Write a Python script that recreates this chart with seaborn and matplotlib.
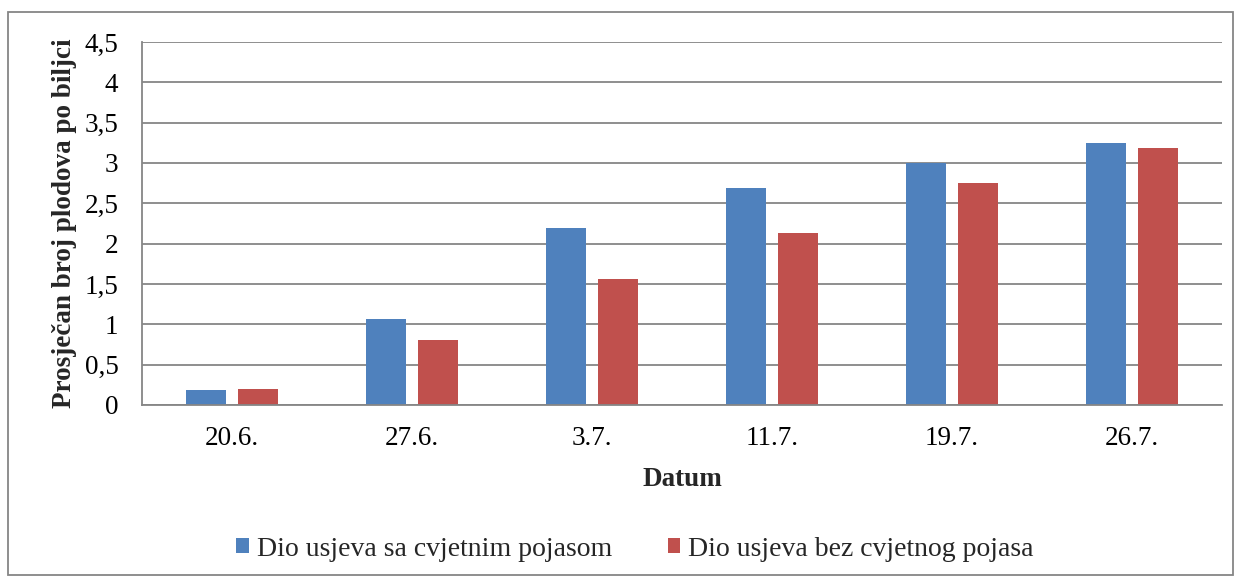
import matplotlib
matplotlib.use("Agg")
import matplotlib.pyplot as plt
import seaborn as sns
import pandas as pd
from matplotlib.patches import Rectangle, Patch

dates = ["20.6.", "27.6.", "3.7.", "11.7.", "19.7.", "26.7."]
sa_pojasom = [0.19, 1.06, 2.19, 2.69, 3.00, 3.25]
bez_pojasa = [0.20, 0.81, 1.56, 2.13, 2.75, 3.19]
series_names = ["Dio usjeva sa cvjetnim pojasom", "Dio usjeva bez cvjetnog pojasa"]
y_ticks = [0, 0.5, 1, 1.5, 2, 2.5, 3, 3.5, 4, 4.5]
y_tick_labels = ["0", "0,5", "1", "1,5", "2", "2,5", "3", "3,5", "4", "4,5"]

df = pd.DataFrame({
    "Datum": dates * 2,
    "Vrijednost": sa_pojasom + bez_pojasa,
    "Serija": [series_names[0]] * len(dates) + [series_names[1]] * len(dates),
})

sns.set_theme(style="white")
plt.rcParams["font.family"] = ["Liberation Serif", "DejaVu Serif"]

colors = ["#4F81BD", "#C0504D"]
fs = 19.5
fig = plt.figure(figsize=(12.41, 5.83), dpi=100)
ax = fig.add_axes([142/1241, 1-405/583, (1222-142)/1241, (405-42)/583])

sns.barplot(data=df, x="Datum", y="Vrijednost", hue="Serija", order=dates,
            hue_order=series_names, palette=colors, width=0.567, gap=0.216,
            saturation=1, ax=ax, legend=False, edgecolor="none")

ax.set_ylim(0, 4.5)
ax.set_xlim(-0.5, len(dates) - 0.5)
ax.set_yticks(y_ticks)
ax.set_yticklabels(y_tick_labels)
ax.yaxis.grid(True, color="#868686", linewidth=1.3)
ax.set_axisbelow(True)
for s in ["top", "right"]:
    ax.spines[s].set_visible(False)
for s in ["left", "bottom"]:
    ax.spines[s].set_color("#868686")
    ax.spines[s].set_linewidth(1.3)
ax.tick_params(axis="both", length=0, labelsize=fs, colors="black")
ax.tick_params(axis="y", pad=17)
ax.tick_params(axis="x", pad=15)
ax.set_xlabel("Datum", fontsize=fs, fontweight="bold", labelpad=12)
ax.set_ylabel("Prosječan broj plodova po biljci", fontsize=fs, fontweight="bold", labelpad=5)

handles = [Patch(facecolor=c, edgecolor="none") for c in colors]
fig.legend(handles, series_names, loc="center", bbox_to_anchor=(635/1241, 1-549/583),
           ncol=2, frameon=False, fontsize=20, handlelength=0.45, handleheight=0.45,
           handletextpad=0.3, columnspacing=2.0)

fig.patches.append(Rectangle((8/1241, 1-575/583), (1233-8)/1241, (575-12)/583,
                             transform=fig.transFigure, fill=False,
                             edgecolor="#868686", linewidth=1.3))

fig.savefig("out.png", dpi=100)
